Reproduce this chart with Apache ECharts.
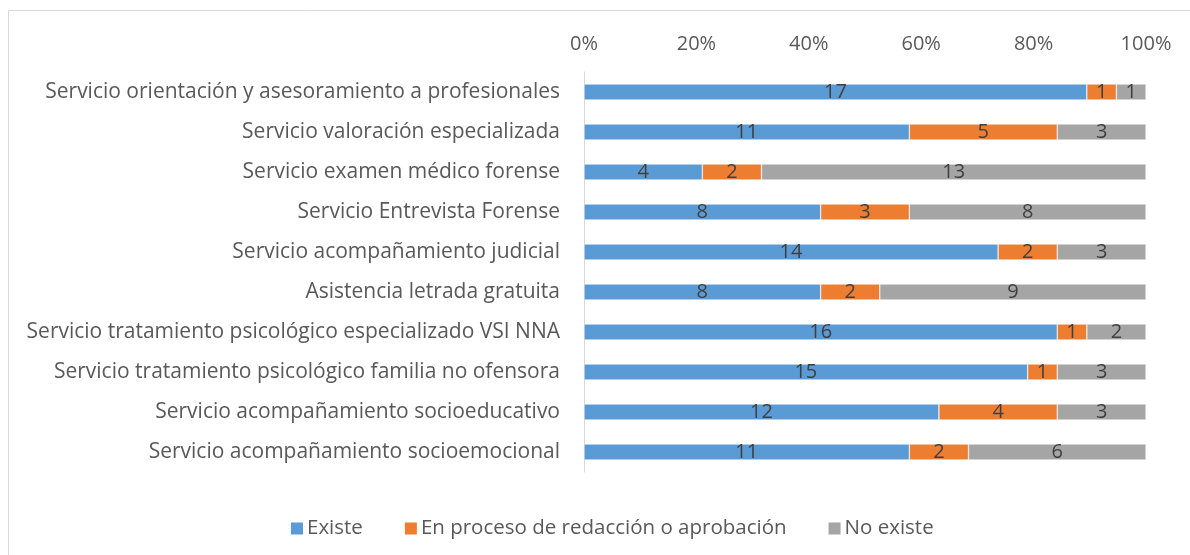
<!DOCTYPE html>
<html>
  <head>
    <meta charset="UTF-8" />
    <title>Servicios</title>
    <style>
      body { margin: 0; background: #fff; }
      #chart { width: 1190px; height: 555px; }
    </style>
    <script src="https://cdn.jsdelivr.net/npm/echarts@6/dist/echarts.min.js"></script>
  </head>
  <body>
    <div id="chart"></div>
    <script>
      var categories = [
        "Servicio orientación y asesoramiento a profesionales",
        "Servicio valoración especializada",
        "Servicio examen médico forense",
        "Servicio Entrevista Forense",
        "Servicio acompañamiento judicial",
        "Asistencia letrada gratuita",
        "Servicio tratamiento psicológico especializado VSI NNA",
        "Servicio tratamiento psicológico familia no ofensora",
        "Servicio acompañamiento socioeducativo",
        "Servicio acompañamiento socioemocional"
      ];
      var existe = [17, 11, 4, 8, 14, 8, 16, 15, 12, 11];
      var enProceso = [1, 5, 2, 3, 2, 2, 1, 1, 4, 2];
      var noExiste = [1, 3, 13, 8, 3, 9, 2, 3, 3, 6];
      var seriesNames = ["Existe", "En proceso de redacción o aprobación", "No existe"];
      var colors = ["#5B9BD5", "#ED7D31", "#A5A5A5"];

      var font = "'Open Sans', 'Liberation Sans', sans-serif";
      var totals = categories.map(function (c, i) {
        return existe[i] + enProceso[i] + noExiste[i];
      });

      function makeSeries(name, counts, color) {
        return {
          name: name,
          type: "bar",
          stack: "total",
          barWidth: 16,
          itemStyle: { color: color, borderColor: "#fff", borderWidth: 0.5 },
          label: {
            show: true,
            position: "inside",
            color: "#404040",
            fontSize: 20,
            fontFamily: font,
            formatter: function (p) { return counts[p.dataIndex]; }
          },
          data: counts.map(function (v, i) { return v / totals[i] * 100; })
        };
      }

      var myChart = echarts.init(document.getElementById("chart"));
      myChart.setOption({
        animation: false,
        color: colors,
        graphic: [{
          type: "rect",
          shape: { x: 8.5, y: 10.5, width: 1190, height: 560 },
          style: { fill: "none", stroke: "#d9d9d9", lineWidth: 1 }
        }],
        legend: {
          top: 513,
          left: 284,
          itemWidth: 14,
          itemHeight: 14,
          itemGap: 40,
          icon: "rect",
          textStyle: { color: "#595959", fontSize: 20.5, fontFamily: font, padding: [0, 0, 0, -2] }
        },
        grid: { left: 584, right: 44, top: 72, height: 400, containLabel: false },
        xAxis: {
          type: "value",
          position: "top",
          min: 0,
          max: 100,
          interval: 20,
          axisLine: { show: false },
          axisTick: { show: false },
          splitLine: { show: false },
          axisLabel: {
            color: "#595959",
            fontSize: 20,
            fontFamily: font,
            margin: 18,
            formatter: "{value}%"
          }
        },
        yAxis: {
          type: "category",
          inverse: true,
          data: categories,
          axisLine: { show: true, lineStyle: { color: "#d9d9d9" } },
          axisTick: { show: false },
          axisLabel: {
            color: "#595959",
            fontSize: 21,
            fontFamily: font,
            margin: 24
          }
        },
        series: [
          makeSeries(seriesNames[0], existe, colors[0]),
          makeSeries(seriesNames[1], enProceso, colors[1]),
          makeSeries(seriesNames[2], noExiste, colors[2])
        ]
      });
    </script>
  </body>
</html>
